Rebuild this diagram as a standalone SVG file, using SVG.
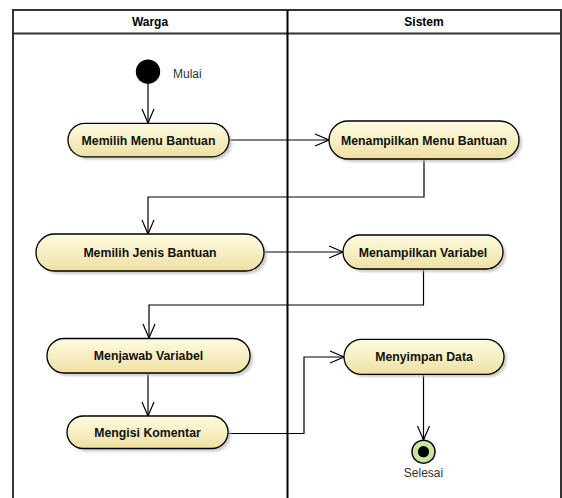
<svg xmlns="http://www.w3.org/2000/svg" width="562" height="498" viewBox="0 0 562 498">
  <defs>
    <linearGradient id="actFill" x1="0" y1="0" x2="0" y2="1">
      <stop offset="0" stop-color="#fdfadf"/>
      <stop offset="0.5" stop-color="#f7efc4"/>
      <stop offset="1" stop-color="#ede0a2"/>
    </linearGradient>
    <filter id="soft" x="-10%" y="-30%" width="120%" height="160%">
      <feGaussianBlur stdDeviation="1.2"/>
    </filter>
    <marker id="open" viewBox="0 0 16 14" refX="15" refY="7" markerWidth="16" markerHeight="14" markerUnits="userSpaceOnUse" orient="auto">
      <path d="M1,1 L15,7 L1,13" fill="none" stroke="#000" stroke-width="1.2"/>
    </marker>
  </defs>
  <style>
    .lane { fill: none; stroke: #333; stroke-width: 2; }
    .head { font-family: "Liberation Sans", Arial, sans-serif; font-size: 12px; font-weight: bold; fill: #000; text-anchor: middle; }
    .act { fill: url(#actFill); stroke: #000; stroke-width: 1.3; }
    .shadow { fill: #b8b8b8; opacity: 0.7; filter: url(#soft); }
    .lbl { font-family: "Liberation Sans", Arial, sans-serif; font-size: 12.3px; font-weight: bold; fill: #111; text-anchor: middle; }
    .note { font-family: "Liberation Sans", Arial, sans-serif; font-size: 12px; fill: #333; }
    .flow { fill: none; stroke: #000; stroke-width: 1.2; marker-end: url(#open); }
  </style>
  <rect width="562" height="498" fill="#fff"/>

  <!-- swimlanes -->
  <g id="lanes">
    <rect class="lane" x="13" y="10" width="548" height="495"/>
    <line class="lane" x1="13" y1="33.5" x2="561" y2="33.5"/>
    <line x1="287.5" y1="10" x2="287.5" y2="498" stroke="#000" stroke-width="2"/>
    <text class="head" x="150" y="26">Warga</text>
    <text class="head" x="424" y="26">Sistem</text>
  </g>

  <!-- connectors -->
  <g id="connectors">
    <path class="flow" d="M148,84 L148,123"/>
    <path class="flow" d="M229,140 L329,140"/>
    <path class="flow" d="M424,159 L424,197 L148,197 L148,234"/>
    <path class="flow" d="M264,252 L343,252"/>
    <path class="flow" d="M423.5,269 L423.5,305 L149,305 L149,338"/>
    <path class="flow" d="M148,372 L148,416"/>
    <path class="flow" d="M228,433.5 L304,433.5 L304,357 L344,357"/>
    <path class="flow" d="M423.5,374 L423.5,440"/>
  </g>

  <!-- start -->
  <g id="start">
    <circle cx="148" cy="71.7" r="12.2" fill="#000"/>
    <text class="note" x="173" y="77.5">Mulai</text>
  </g>

  <g id="memilih-menu-bantuan">
    <rect class="shadow" x="71" y="126" width="161" height="33.5" rx="16.7"/>
    <rect class="act" x="68" y="123.3" width="161" height="33.5" rx="16.7"/>
    <text class="lbl" x="148.5" y="144.5">Memilih Menu Bantuan</text>
  </g>

  <g id="menampilkan-menu-bantuan">
    <rect class="shadow" x="332" y="124" width="190" height="38" rx="19"/>
    <rect class="act" x="329" y="121" width="190" height="38" rx="19"/>
    <text class="lbl" x="424" y="144.5">Menampilkan Menu Bantuan</text>
  </g>

  <g id="memilih-jenis-bantuan">
    <rect class="shadow" x="39" y="237" width="228" height="37" rx="18.5"/>
    <rect class="act" x="36" y="234" width="228" height="37" rx="18.5"/>
    <text class="lbl" x="150" y="256.8">Memilih Jenis Bantuan</text>
  </g>

  <g id="menampilkan-variabel">
    <rect class="shadow" x="346" y="238" width="160" height="34" rx="17"/>
    <rect class="act" x="343" y="235" width="160" height="34" rx="17"/>
    <text class="lbl" x="423" y="256.5">Menampilkan Variabel</text>
  </g>

  <g id="menjawab-variabel">
    <rect class="shadow" x="50" y="341.5" width="203" height="34.5" rx="17"/>
    <rect class="act" x="47" y="338.5" width="203" height="34.5" rx="17"/>
    <text class="lbl" x="148.5" y="360">Menjawab Variabel</text>
  </g>

  <g id="mengisi-komentar">
    <rect class="shadow" x="70" y="419" width="161" height="32.5" rx="16.2"/>
    <rect class="act" x="67" y="416" width="161" height="32.5" rx="16.2"/>
    <text class="lbl" x="147.5" y="436.5">Mengisi Komentar</text>
  </g>

  <g id="menyimpan-data">
    <rect class="shadow" x="347" y="342" width="160" height="35" rx="17.5"/>
    <rect class="act" x="344" y="339.3" width="160" height="35" rx="17.5"/>
    <text class="lbl" x="424" y="361">Menyimpan Data</text>
  </g>

  <!-- end -->
  <g id="end">
    <circle cx="423.5" cy="451.7" r="11.5" fill="#c9e3a2" stroke="#000" stroke-width="1.5"/>
    <circle cx="423.5" cy="451.7" r="5.6" fill="#000"/>
    <text class="note" x="423.5" y="477" text-anchor="middle">Selesai</text>
  </g>
</svg>
